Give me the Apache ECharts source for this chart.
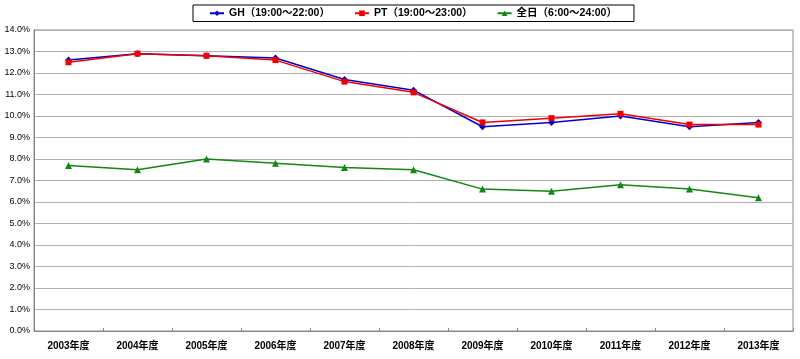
<!DOCTYPE html>
<html><head><meta charset="utf-8">
<script src="https://cdn.jsdelivr.net/npm/echarts@6/dist/echarts.min.js"></script>
<style>html,body{margin:0;padding:0;background:#fff}#c{width:800px;height:359px}</style>
</head><body><div id="c"></div>
<script>
const categories = ['2003年度','2004年度','2005年度','2006年度','2007年度','2008年度','2009年度','2010年度','2011年度','2012年度','2013年度'];
const seriesNames = ['GH（19:00～22:00）','PT（19:00～23:00）','全日（6:00～24:00）'];
const ghValues = [12.6, 12.9, 12.8, 12.7, 11.7, 11.2, 9.5, 9.7, 10.0, 9.5, 9.7];
const ptValues = [12.5, 12.9, 12.8, 12.6, 11.6, 11.1, 9.7, 9.9, 10.1, 9.6, 9.6];
const allDayValues = [7.7, 7.5, 8.0, 7.8, 7.6, 7.5, 6.6, 6.5, 6.8, 6.6, 6.2];

const chart = echarts.init(document.getElementById('c'), null, {renderer:'canvas'});
const font = 'Arial, "Liberation Sans", "Noto Sans CJK JP", sans-serif';
chart.setOption({
  animation:false,
  textStyle:{fontFamily:font},
  legend:{
    top:5, left:193, itemGap:24, itemWidth:14, itemHeight:7,
    borderColor:'#000', borderWidth:1, padding:[3,17,3,16],
    textStyle:{fontSize:10.5, fontWeight:'bold', color:'#000', fontFamily:font},
    data:seriesNames
  },
  grid:{left:34, right:7, top:30, bottom:28, containLabel:false, show:true, borderColor:'#888', borderWidth:1},
  xAxis:{
    type:'category', data:categories, boundaryGap:true,
    axisLine:{lineStyle:{color:'#888'}},
    axisTick:{show:true, lineStyle:{color:'#888'}, length:3, inside:true},
    axisLabel:{fontSize:10, fontWeight:'bold', color:'#000', margin:10}
  },
  yAxis:{
    type:'value', min:0, max:14, interval:1,
    axisLine:{show:true, lineStyle:{color:'#888'}},
    axisTick:{show:false},
    splitLine:{lineStyle:{color:'#b0b0b0', width:1}},
    axisLabel:{fontSize:9, color:'#000', margin:4, formatter:v=>v.toFixed(1)+'%'}
  },
  series:[
    {name:seriesNames[0], type:'line', data:ghValues, symbol:'diamond', symbolSize:7,
     itemStyle:{color:'#0000cc'}, lineStyle:{color:'#0000cc', width:1.5}},
    {name:seriesNames[1], type:'line', data:ptValues, symbol:'rect', symbolSize:6,
     itemStyle:{color:'#ee0000'}, lineStyle:{color:'#ee0000', width:1.5}},
    {name:seriesNames[2], type:'line', data:allDayValues, symbol:'triangle', symbolSize:7,
     itemStyle:{color:'#118811'}, lineStyle:{color:'#118811', width:1.5}}
  ]
});
</script></body></html>
